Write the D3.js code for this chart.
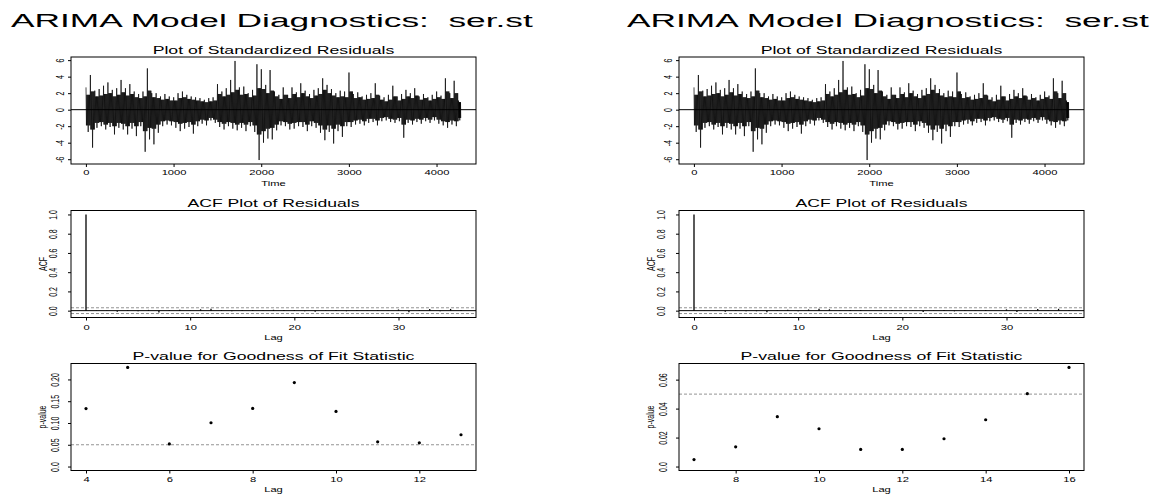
<!DOCTYPE html>
<html><head><meta charset="utf-8">
<script src="https://cdn.jsdelivr.net/npm/d3@7"></script>
<style>body{margin:0;background:#fff} text{white-space:pre}</style>
</head><body><svg id="c" width="1163" height="497"></svg>
<script>
// ---------------- data ----------------
const titleMain = "ARIMA Model Diagnostics:\u00a0\u00a0ser.st";
const nObs = 4279;
const binWidth = 50;
// standardized residuals, per 50-step bin:
// extreme spikes (resHi / resLo) and the edge of the dense band (bandHi / bandLo)
const resHi = [2.7,4.2,2.3,2.5,2.9,3.3,2.4,2.6,3.6,2.6,3.1,2.2,1.9,2.2,5.0,2.0,2.0,1.6,1.9,1.6,
  1.5,2.0,2.2,1.8,1.6,1.5,1.4,1.2,1.4,1.5,3.1,2.2,2.6,3.6,5.9,2.7,2.8,2.0,2.4,5.5,
  4.9,3.0,4.8,2.2,1.8,2.7,1.8,2.7,2.1,3.2,2.3,1.9,2.4,2.6,3.8,3.0,2.5,2.0,2.3,2.2,
  4.5,1.9,2.1,1.6,1.8,2.0,3.2,1.7,1.5,1.8,2.9,1.6,1.9,2.4,2.0,2.6,1.6,1.9,1.5,1.8,
  2.2,1.7,3.8,2.0,3.5,1.1];
const resLo = [-2.7,-4.6,-2.2,-2.0,-2.4,-2.1,-3.0,-2.2,-2.4,-3.0,-2.3,-3.2,-2.0,-5.1,-3.6,-4.2,-2.8,-2.0,-1.8,-1.9,
  -2.2,-2.6,-2.3,-2.1,-2.9,-2.0,-1.7,-1.9,-1.3,-1.6,-2.1,-2.4,-2.0,-2.3,-2.5,-2.2,-2.6,-2.0,-2.7,-6.1,
  -4.0,-3.5,-3.6,-2.5,-1.9,-2.0,-2.4,-2.3,-2.0,-2.1,-2.6,-2.0,-2.2,-2.8,-3.7,-2.7,-4.1,-2.6,-3.3,-2.0,
  -2.1,-1.8,-1.7,-1.9,-1.6,-1.5,-1.9,-1.4,-1.3,-1.5,-1.6,-1.4,-3.4,-1.6,-1.8,-1.5,-1.7,-1.4,-1.6,-1.3,
  -1.7,-1.9,-2.2,-1.8,-2.0,-1.3];
const bandHi = [1.8,2.2,1.6,1.7,1.9,2.0,1.6,1.8,2.1,1.7,1.9,1.5,1.4,1.6,2.3,1.5,
  1.4,1.2,1.3,1.1,1.1,1.4,1.5,1.3,1.2,1.1,1.0,0.9,1.0,1.1,
  1.9,1.6,1.8,2.1,2.4,1.8,1.9,1.5,1.7,2.6,2.5,2.0,2.3,1.6,
  1.3,1.8,1.4,1.9,1.5,2.0,1.6,1.4,1.7,1.9,2.4,2.0,1.7,1.5,1.6,1.5,
  2.2,1.4,1.5,1.2,1.3,1.4,1.8,1.2,1.0,1.2,1.6,1.1,1.3,1.6,
  1.4,1.7,1.2,1.4,1.1,1.3,1.5,1.3,2.2,1.4,2.0,0.9];
const bandLo = [-1.9,-2.4,-1.6,-1.5,-1.8,-1.6,-2.0,-1.6,-1.7,-2.0,-1.6,-2.0,-1.5,-2.6,-2.2,-2.3,
  -1.8,-1.4,-1.3,-1.4,-1.5,-1.7,-1.6,-1.5,-1.8,-1.4,-1.2,-1.3,-1.0,-1.2,
  -1.5,-1.7,-1.5,-1.6,-1.8,-1.6,-1.8,-1.5,-1.9,-3.0,-2.6,-2.3,-2.2,-1.8,
  -1.4,-1.5,-1.7,-1.6,-1.5,-1.5,-1.8,-1.4,-1.6,-1.9,-2.4,-1.9,-2.3,-1.8,-2.0,-1.5,
  -1.5,-1.3,-1.2,-1.4,-1.1,-1.1,-1.3,-1.0,-0.9,-1.1,-1.2,-1.0,-1.8,-1.2,
  -1.3,-1.1,-1.2,-1.0,-1.2,-0.9,-1.2,-1.4,-1.5,-1.3,-1.4,-1.0];

const acfLags = [0,1,2,3,4,5,6,7,8,9,10,11,12,13,14,15,16,17,18,19,20,21,22,23,24,25,26,27,28,29,30,31,32,33,34,35,36];
const acfLeft = [1,0.003,-0.004,-0.012,0.004,-0.006,0.008,-0.018,0.005,0.010,-0.004,0.014,0.020,0.006,-0.005,0.004,0.007,-0.003,0.009,0.008,0.006,-0.005,-0.012,0.004,0.007,-0.006,0.003,-0.004,0.005,-0.003,0.012,-0.016,0.004,0.016,-0.005,0.018,0.006];
const acfRight = [1,0.002,-0.003,-0.011,0.003,-0.007,-0.006,-0.016,0.004,0.009,-0.005,0.012,0.019,0.014,-0.004,0.006,0.008,-0.002,0.007,0.008,0.005,-0.004,-0.013,0.003,0.006,-0.007,0.004,-0.003,0.006,-0.002,0.013,-0.015,0.005,0.017,-0.004,0.019,0.005];
const acfCI = 0.03;

const pLagsLeft = [4,5,6,7,8,9,10,11,12,13];
const pValsLeft = [0.133,0.2275,0.052,0.1005,0.1335,0.1928,0.1265,0.0568,0.0545,0.073];
const pLagsRight = [7,8,9,10,11,12,13,14,15,16];
const pValsRight = [0.0048,0.0136,0.0344,0.0261,0.0118,0.0118,0.0192,0.0323,0.0503,0.0684];
const pThreshold = 0.05;

const resXTicks = [0,1000,2000,3000,4000];
const resYTicks = [-6,-4,-2,0,2,4,6];
const acfXTicks = [0,10,20,30];
const acfYTicks = [0,0.2,0.4,0.6,0.8,1.0];
const pXTicksLeft = [4,6,8,10,12];
const pXTicksRight = [8,10,12,14,16];
const pYTicksLeft = [0,0.05,0.10,0.15,0.20];
const pYTicksRight = [0,0.02,0.04,0.06];

// ---------------- drawing ----------------
const FONT = '"Liberation Sans", Arial, Helvetica, sans-serif';
const SX = 1.6;
const svg = d3.select('#c');
const expand = ([a,b]) => [a-(b-a)*0.04, b+(b-a)*0.04];

function label(g, x, y, s, size, o={}) {
  const t = g.append('text').text(s).attr('font-size', size).attr('font-family', FONT)
    .attr('text-anchor', o.anchor || 'middle').attr('fill','#000');
  let k = SX;
  if (o.width) { const w = t.node().getComputedTextLength(); k = o.width / w; }
  t.attr('transform', `translate(${x},${y}) scale(${k},1)` + (o.rot ? ' rotate(-90)' : ''));
  return t;
}
function styleBottom(ax, gap) {
  ax.select('.domain').remove();
  ax.selectAll('.tick line').attr('stroke','#000').attr('stroke-width',1);
  ax.selectAll('.tick text').attr('font-size',7).attr('font-family',FONT).attr('fill','#000')
    .attr('y', gap).attr('dy',0).attr('transform',`scale(${SX},1)`);
}
function styleLeft(ax, gap) {
  ax.select('.domain').remove();
  ax.selectAll('.tick line').attr('stroke','#000').attr('stroke-width',1);
  ax.selectAll('.tick text').attr('font-size',7).attr('font-family',FONT).attr('fill','#000')
    .attr('x',0).attr('dy',0).attr('text-anchor','middle')
    .attr('transform',`translate(${-gap},0) scale(${SX},1) rotate(-90)`);
}
function box(g, x0, x1, top, bot) {
  g.append('rect').attr('x',x0).attr('y',top).attr('width',x1-x0).attr('height',bot-top)
    .attr('fill','none').attr('stroke','#000').attr('stroke-width',1);
}

const rowTop = [57, 210.5, 363.5], rowH = 107;

function panel(ox, titleX, acfVals, pLags, pVals, pXTicks, pYTicks, pFmt) {
  const g = svg.append('g');
  const x0 = 71 + ox, x1 = 476 + ox, cx = (x0 + x1) / 2;
  label(g, titleX, 27, titleMain, 19, {anchor:'start', width:522});

  // ---- residuals ----
  let top = rowTop[0], bot = top + rowH;
  const xs = d3.scaleLinear().domain(expand([1, nObs])).range([x0, x1]);
  const ys = d3.scaleLinear().domain(expand(d3.extent(resHi.concat(resLo)))).range([bot, top]);
  const pts = [];
  resHi.forEach((hi, i) => {
    const t0 = 1 + i * binWidth, t1 = Math.min(nObs, t0 + binWidth);
    const bh = bandHi[i], bl = bandLo[i];
    const seq = [hi, bl, bh, bl, bh, resLo[i], bh, bl, bh, bl];
    const w = (t1 - t0) / seq.length;
    seq.forEach((v, j) => pts.push([t0 + j * w, v]));
  });
  g.append('line').attr('x1',x0).attr('x2',x1).attr('y1',ys(0)).attr('y2',ys(0)).attr('stroke','#000').attr('stroke-width',1);
  g.append('path').attr('d', d3.line().x(d=>xs(d[0])).y(d=>ys(d[1]))(pts))
    .attr('fill','none').attr('stroke','#000').attr('stroke-width',0.7);
  box(g, x0, x1, top, bot);
  styleBottom(g.append('g').attr('transform',`translate(0,${bot})`)
    .call(d3.axisBottom(xs).tickValues(resXTicks).tickSize(3).tickFormat(d=>String(d))), 11.5);
  styleLeft(g.append('g').attr('transform',`translate(${x0},0)`)
    .call(d3.axisLeft(ys).tickValues(resYTicks).tickSize(3).tickFormat(d=>String(d))), 7.5);
  label(g, cx, 54, 'Plot of Standardized Residuals', 10.5, {width:242});
  label(g, cx, 185.5, 'Time', 7);

  // ---- ACF ----
  top = rowTop[1]; bot = top + rowH;
  const xa = d3.scaleLinear().domain(expand(d3.extent(acfLags))).range([x0, x1]);
  const ya = d3.scaleLinear().domain(expand([Math.min(-acfCI, d3.min(acfVals)), 1])).range([bot, top]);
  g.append('line').attr('x1',x0).attr('x2',x1).attr('y1',ya(0)).attr('y2',ya(0)).attr('stroke','#000').attr('stroke-width',1);
  [acfCI, -acfCI].forEach(v => g.append('line').attr('x1',x0).attr('x2',x1).attr('y1',ya(v)).attr('y2',ya(v))
    .attr('stroke','#777').attr('stroke-width',0.8).attr('stroke-dasharray','3,2'));
  g.selectAll(null).data(acfLags).enter().append('line')
    .attr('x1',d=>xa(d)).attr('x2',d=>xa(d)).attr('y1',ya(0)).attr('y2',(d,i)=>ya(acfVals[i]))
    .attr('stroke','#000').attr('stroke-width',1.3);
  box(g, x0, x1, top, bot);
  styleBottom(g.append('g').attr('transform',`translate(0,${bot})`)
    .call(d3.axisBottom(xa).tickValues(acfXTicks).tickSize(3).tickFormat(d=>String(d))), 12.5);
  styleLeft(g.append('g').attr('transform',`translate(${x0},0)`)
    .call(d3.axisLeft(ya).tickValues(acfYTicks).tickSize(3).tickFormat(d3.format('.1f'))), 14);
  label(g, cx, 206.5, 'ACF Plot of Residuals', 11.5, {width:172});
  label(g, x0 - 24, (top+bot)/2, 'ACF', 7, {rot:true});
  label(g, cx, 339.5, 'Lag', 7);

  // ---- p-values ----
  top = rowTop[2]; bot = top + rowH;
  const xp = d3.scaleLinear().domain(expand(d3.extent(pLags))).range([x0, x1]);
  const yp = d3.scaleLinear().domain(expand([0, d3.max(pVals)])).range([bot, top]);
  g.append('line').attr('x1',x0).attr('x2',x1).attr('y1',yp(pThreshold)).attr('y2',yp(pThreshold))
    .attr('stroke','#777').attr('stroke-width',0.8).attr('stroke-dasharray','3,2');
  g.selectAll(null).data(pLags).enter().append('circle')
    .attr('cx',d=>xp(d)).attr('cy',(d,i)=>yp(pVals[i])).attr('r',1.6).attr('fill','#000');
  box(g, x0, x1, top, bot);
  styleBottom(g.append('g').attr('transform',`translate(0,${bot})`)
    .call(d3.axisBottom(xp).tickValues(pXTicks).tickSize(3).tickFormat(d=>String(d))), 11.5);
  styleLeft(g.append('g').attr('transform',`translate(${x0},0)`)
    .call(d3.axisLeft(yp).tickValues(pYTicks).tickSize(3).tickFormat(pFmt)), 12.5);
  label(g, cx, 359.5, 'P-value for Goodness of Fit Statistic', 11.5, {width:282});
  label(g, x0 - 25, (top+bot)/2, 'p-value', 7, {rot:true});
  label(g, cx, 492, 'Lag', 7);
}

const fmtP = d => d === 0 ? '0.0' : d.toFixed(2);
panel(0, 11, acfLeft, pLagsLeft, pValsLeft, pXTicksLeft, pYTicksLeft, fmtP);
panel(608, 627, acfRight, pLagsRight, pValsRight, pXTicksRight, pYTicksRight, fmtP);
</script></body></html>
